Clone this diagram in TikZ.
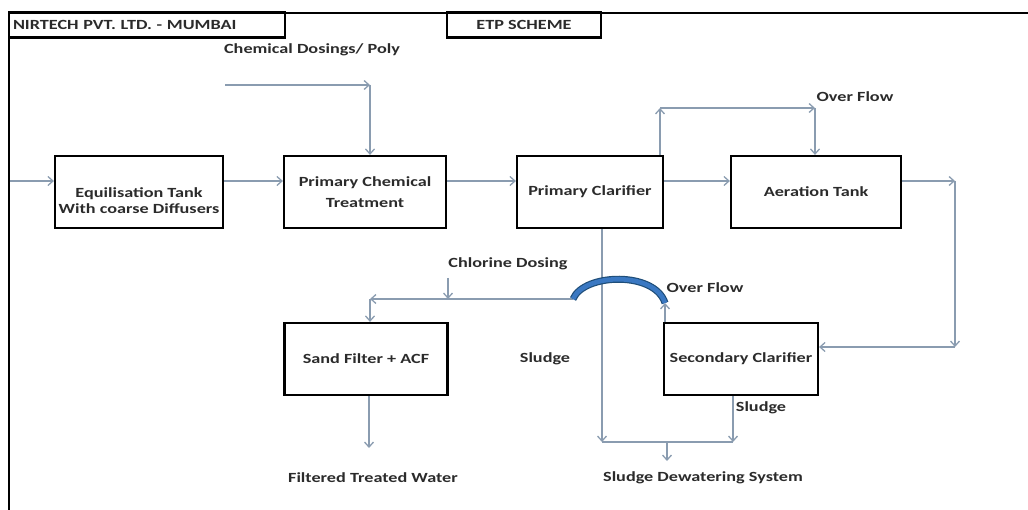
\documentclass[tikz,border=0pt]{standalone}
\usepackage{fontspec}
\setmainfont{Carlito}[FakeStretch=1.3]
\usetikzlibrary{arrows.meta}
\definecolor{arr}{HTML}{8A9CB0}
\definecolor{txt}{HTML}{2B2B2B}
\definecolor{arcfill}{HTML}{3A78C2}
\definecolor{arcedge}{HTML}{1F4E79}
\begin{document}
\begin{tikzpicture}[x=1pt,y=-1pt,
  font=\fontsize{14}{16}\selectfont\bfseries,
  box/.style={draw=black, line width=2.2pt, minimum height=72pt, align=center, inner sep=2pt, text=txt},
  titlebox/.style={draw=black, line width=2.2pt, minimum height=25pt, inner xsep=4pt, inner ysep=0pt, text=txt},
  flow/.style={draw=arr, line width=1.3pt, -{Straight Barb[length=5pt,width=9pt]}},
  pipe/.style={draw=arr, line width=1.3pt},
  lbl/.style={text=txt, inner sep=0pt}]
\useasboundingbox (0,0) rectangle (1028,510);
% frame
\draw[line width=2.5pt] (9,510) -- (9,13) -- (1028,13);
\node[titlebox, text width=268pt, align=left] (t1) at (147,25) {NIRTECH PVT. LTD. - MUMBAI};
\node[titlebox, minimum width=154pt] (t2) at (524,25) {ETP SCHEME};
% boxes
\node[box, minimum width=168pt] (eq) at (139,192) {\rule{0pt}{28pt}Equilisation Tank\\With coarse Diffusers};
\node[box, minimum width=162pt] (pct) at (365,192) {Primary Chemical\\[5pt]Treatment};
\node[box, minimum width=146pt] (pc) at (590,192) {Primary Clarifier};
\node[box, minimum width=170pt] (at) at (816,192) {Aeration Tank};
\node[box, minimum width=163pt] (sf) at (366,359) {Sand Filter + ACF};
\node[box, minimum width=154pt] (sc) at (741,359) {Secondary Clarifier};
% labels
\node[lbl] (lchem) at (312,50) {Chemical Dosings/ Poly};
\node[lbl] (lov1) at (855,97) {Over Flow};
\node[lbl] (lcl) at (508,264) {Chlorine Dosing};
\node[lbl] (lov2) at (705,288) {Over Flow};
\node[lbl] (lsl1) at (545,359) {Sludge};
\node[lbl] (lsl2) at (761,408) {Sludge};
\node[lbl] (lftw) at (373,478) {Filtered Treated Water};
\node[lbl] (lsds) at (703,478) {Sludge Dewatering System};
% coordinates
\coordinate (row) at (0,181);
\coordinate (in) at (10,181);
\coordinate (r1) at (955,181);
\coordinate (r2) at (955,347);
\coordinate (d0) at (225,85);
\coordinate (d1) at (370,85);
\coordinate (o0) at (660,108);
\coordinate (o1) at (815,108);
\coordinate (s1) at (602,442);
\coordinate (s2) at (733,442);
\coordinate (sm) at (667,442);
\coordinate (sd) at (667,461);
\coordinate (fo) at (369,448);
\coordinate (c0) at (573,299);
\coordinate (c1) at (370,299);
\coordinate (cd) at (448,278);
\coordinate (cj) at (448,299);
\coordinate (ov) at (665,303);
% main row
\draw[flow] (in) -- (eq.west |- row);
\draw[flow] (eq.east |- row) -- (pct.west |- row);
\draw[flow] (pct.east |- row) -- (pc.west |- row);
\draw[flow] (pc.east |- row) -- (at.west |- row);
\draw[flow] (at.east |- row) -- (r1);
\draw[flow] (r1) -- (r2);
\draw[flow] (r2) -- (sc.east |- r2);
% chemical dosing
\draw[flow] (d0) -- (d1);
\draw[flow] (d1) -- (pct.north -| d1);
% overflow to aeration
\draw[flow] (pc.north -| o0) -- (o0);
\draw[flow] (o0) -- (o1);
\draw[flow] (o1) -- (at.north -| o1);
% sludge
\draw[flow] (pc.south -| s1) -- (s1);
\draw[flow] (sc.south -| s2) -- (s2);
\draw[pipe] (s1) -- (s2);
\draw[flow] (sm) -- (sd);
% filter output
\draw[flow] (sf.south -| fo) -- (fo);
% chlorine line
\draw[flow] (c0) -- (c1);
\draw[flow] (c1) -- (sf.north -| c1);
\draw[flow] (cd) -- (cj);
% overflow hop
\draw[line width=7pt, arcedge] (c0) .. controls (584,273) and (655,271) .. (ov);
\draw[line width=4.6pt, arcfill] (c0) .. controls (584,273) and (655,271) .. (ov);
\draw[flow] (sc.north -| ov) -- (ov);
\end{tikzpicture}
\end{document}
